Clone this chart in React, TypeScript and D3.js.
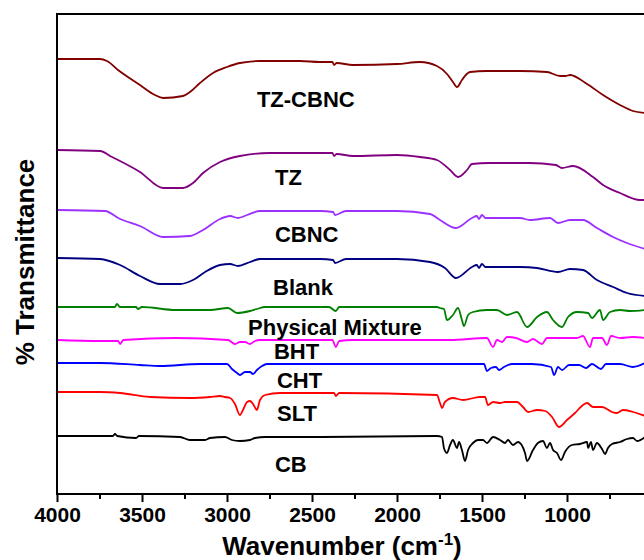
import React, { useEffect, useRef } from "react";
import * as d3 from "d3";

// spectra: [wavenumber (cm-1), stacked transmittance (a.u.)]
const tzCbnc: [number, number][] = [
  [4000, 435], [3747, 435], [3706, 433], [3641, 424], [3512, 409], [3424, 399], [3376, 396],
  [3259, 398], [3218, 402], [3159, 411], [3082, 421], [3000, 427], [2924, 431], [2806, 433],
  [2571, 433], [2453, 432], [2380, 432], [2370, 429], [2355, 431], [2259, 429], [2000, 430],
  [1865, 432], [1765, 428], [1706, 420], [1671, 412], [1647, 407], [1618, 414], [1590, 420],
  [1571, 422], [1471, 423], [1276, 423], [1118, 422], [1041, 418], [1010, 418], [982, 419],
  [882, 410], [788, 399], [688, 389], [612, 383], [540, 381],
];
const tz: [number, number][] = [
  [4000, 344], [3747, 343], [3676, 337], [3512, 322], [3376, 306], [3259, 306], [3200, 311],
  [3141, 321], [3041, 332], [2924, 338], [2747, 341], [2453, 341], [2380, 341], [2370, 338],
  [2355, 340], [2259, 338], [2000, 339], [1865, 337], [1765, 334], [1688, 324], [1641, 317],
  [1588, 324], [1559, 330], [1459, 331], [1224, 331], [1065, 329], [1030, 326], [965, 328],
  [847, 317], [788, 309], [688, 301], [570, 294], [540, 294],
];
const cbnc: [number, number][] = [
  [4000, 284], [3718, 283], [3629, 275], [3512, 268], [3376, 257], [3218, 258], [3141, 264],
  [3041, 275], [2982, 278], [2935, 276], [2882, 279], [2806, 283], [2453, 283], [2376, 282],
  [2365, 279], [2300, 283], [2000, 283], [1806, 280], [1747, 274], [1653, 266], [1559, 276],
  [1530, 278], [1518, 275], [1500, 279], [1480, 276], [1276, 276], [1218, 274], [1100, 276],
  [1053, 271], [982, 274], [906, 274], [824, 266], [729, 257], [647, 251], [540, 245],
];
const blank: [number, number][] = [
  [4000, 236], [3747, 235], [3629, 229], [3512, 218], [3394, 210], [3276, 210], [3200, 214],
  [3129, 222], [3041, 229], [2982, 230], [2935, 228], [2865, 232], [2806, 235], [2453, 235],
  [2376, 234], [2365, 231], [2300, 235], [2000, 235], [1806, 232], [1718, 226], [1653, 216],
  [1559, 227], [1530, 229], [1518, 226], [1500, 230], [1480, 227], [1276, 227], [1176, 226],
  [1053, 222], [982, 225], [906, 224], [824, 214], [729, 207], [647, 201], [540, 198],
];
const physMix: [number, number][] = [
  [4000, 187], [3660, 187], [3647, 190], [3630, 187], [3535, 187], [3524, 185], [3500, 187],
  [3300, 184], [3100, 184], [2994, 186], [2941, 181], [2865, 183], [2824, 185], [2776, 187],
  [2400, 187], [2360, 183], [2340, 187], [1765, 187], [1747, 186], [1724, 185], [1706, 174],
  [1671, 179], [1641, 186], [1618, 174], [1606, 168], [1582, 179], [1553, 182], [1471, 184],
  [1412, 184], [1353, 179], [1294, 182], [1235, 167], [1176, 177], [1118, 182], [1082, 174],
  [1029, 167], [994, 177], [941, 182], [876, 181], [853, 176], [806, 184], [788, 174],
  [747, 182], [688, 184], [629, 183], [540, 184],
];
const bht: [number, number][] = [
  [4000, 154], [3747, 153], [3640, 153], [3629, 150], [3610, 154], [3300, 156], [2994, 154],
  [2953, 150], [2924, 152], [2894, 152], [2865, 150], [2835, 153], [2806, 154], [2380, 154],
  [2360, 147], [2340, 153], [2259, 154], [1688, 154], [1471, 156], [1435, 147], [1412, 154],
  [1382, 152], [1353, 157], [1300, 156], [1235, 152], [1200, 155], [1147, 150], [1118, 156],
  [1041, 156], [941, 156], [906, 158], [865, 147], [847, 156], [794, 156], [765, 149],
  [741, 158], [688, 156], [612, 157], [540, 156],
];
const cht: [number, number][] = [
  [4000, 131], [3747, 131], [3512, 129], [3394, 128], [3159, 130], [3000, 130], [2971, 125],
  [2941, 121], [2924, 119], [2894, 122], [2865, 122], [2847, 120], [2824, 124], [2794, 128],
  [2765, 130], [1488, 130], [1471, 123], [1447, 126], [1418, 127], [1400, 124], [1371, 127],
  [1324, 130], [1206, 130], [1094, 127], [1076, 119], [1053, 127], [1029, 124], [988, 129],
  [929, 129], [888, 126], [853, 130], [800, 125], [771, 130], [688, 130], [612, 127], [540, 131],
];
const slt: [number, number][] = [
  [4000, 102], [3747, 102], [3629, 101], [3453, 97], [3218, 96], [3100, 97], [3041, 98],
  [3012, 97], [2982, 96], [2953, 90], [2924, 79], [2906, 84], [2882, 92], [2865, 93],
  [2847, 90], [2824, 84], [2806, 94], [2776, 99], [2688, 101], [2453, 101], [2370, 101],
  [2360, 98], [2340, 101], [1765, 99], [1747, 91], [1735, 86], [1718, 92], [1671, 96],
  [1612, 94], [1512, 97], [1482, 97], [1465, 89], [1435, 92], [1394, 91], [1365, 92],
  [1294, 92], [1259, 87], [1229, 82], [1176, 84], [1129, 83], [1088, 77], [1047, 67],
  [1000, 74], [953, 81], [906, 89], [882, 91], [847, 87], [794, 87], [735, 82], [706, 81],
  [671, 84], [612, 82], [540, 78],
];
const cb: [number, number][] = [
  [4000, 58], [3671, 58], [3659, 60], [3645, 58], [3535, 56], [3518, 58], [3276, 57],
  [3218, 54], [3129, 54], [3100, 56], [3012, 57], [2971, 54], [2924, 53], [2865, 54],
  [2835, 56], [2776, 57], [2453, 57], [1765, 58], [1735, 57], [1724, 46], [1706, 41],
  [1688, 49], [1671, 54], [1647, 46], [1635, 52], [1618, 44], [1600, 33], [1582, 44],
  [1553, 51], [1524, 54], [1494, 54], [1471, 51], [1435, 57], [1394, 54], [1365, 51],
  [1347, 54], [1318, 49], [1288, 52], [1247, 41], [1235, 33], [1200, 44], [1171, 51],
  [1141, 53], [1118, 46], [1100, 51], [1082, 44], [1059, 41], [1035, 34], [1012, 42],
  [971, 49], [924, 50], [882, 52], [876, 46], [859, 52], [847, 44], [824, 51], [794, 45],
  [776, 40], [759, 46], [735, 50], [688, 52], [647, 55], [612, 56], [588, 53], [540, 57],
];

const seriesData = [tzCbnc, tz, cbnc, blank, physMix, bht, cht, slt, cb];
const seriesNames = ["TZ-CBNC", "TZ", "CBNC", "Blank", "Physical Mixture", "BHT", "CHT", "SLT", "CB"];
const seriesColors = ["#800000", "#800080", "#9b30ff", "#000080", "#008000", "#ff00ff", "#0000ff", "#ff0000", "#000000"];
// label anchor (left edge wavenumber, baseline value)
const labelPos: [number, number][] = [
  [2824, 387], [2718, 309], [2718, 252], [2729, 199], [2876, 159], [2724, 135], [2706, 106], [2706, 73], [2718, 22],
];
const majorTicks = [4000, 3500, 3000, 2500, 2000, 1500, 1000];
const minorTicks = [3750, 3250, 2750, 2250, 1750, 1250, 750];

const width = 644;
const height = 560;
const margin = { top: 14, left: 57, bottom: 66, right: -25 };

export default function App() {
  const ref = useRef<SVGSVGElement>(null);

  useEffect(() => {
    const svg = d3.select(ref.current);
    svg.selectAll("*").remove();
    const iwidth = width - margin.left - margin.right;
    const iheight = height - margin.top - margin.bottom;

    const x = d3.scaleLinear().domain([4000, 400]).range([0, iwidth]);
    const y = d3.scaleLinear().domain([0, 480]).range([iheight, 0]);

    const g = svg.append("g").attr("transform", `translate(${margin.left},${margin.top})`);

    const line = d3.line<[number, number]>()
      .x(d => x(d[0]))
      .y(d => y(d[1]))
      .curve(d3.curveMonotoneX);

    seriesData.forEach((s, i) => {
      g.append("path")
        .attr("d", line(s))
        .attr("fill", "none")
        .attr("stroke", seriesColors[i])
        .attr("stroke-width", 1.8)
        .attr("stroke-linejoin", "round");
    });

    seriesNames.forEach((name, i) => {
      g.append("text")
        .attr("x", x(labelPos[i][0]))
        .attr("y", y(labelPos[i][1]))
        .style("font-family", "Liberation Sans, Arial, sans-serif")
        .style("font-weight", "bold")
        .style("font-size", "22px")
        .text(name);
    });

    // frame
    g.append("rect")
      .attr("width", iwidth)
      .attr("height", iheight)
      .attr("fill", "none")
      .attr("stroke", "#000")
      .attr("stroke-width", 2);

    const xAxis = g.append("g")
      .attr("transform", `translate(0,${iheight})`)
      .call(d3.axisBottom(x).tickValues(majorTicks).tickSize(8).tickSizeOuter(0).tickPadding(5).tickFormat(d3.format("d")));
    xAxis.select(".domain").remove();
    xAxis.selectAll("line").attr("stroke-width", 2);
    xAxis.selectAll("text")
      .style("font-family", "Liberation Sans, Arial, sans-serif")
      .style("font-weight", "bold")
      .style("font-size", "21px")
      .attr("fill", "#000");

    const xMinor = g.append("g")
      .attr("transform", `translate(0,${iheight})`)
      .call(d3.axisBottom(x).tickValues(minorTicks).tickSize(5).tickFormat(() => ""));
    xMinor.select(".domain").remove();
    xMinor.selectAll("line").attr("stroke-width", 2);

    const title = svg.append("text")
      .attr("x", 342)
      .attr("y", 555)
      .attr("text-anchor", "middle")
      .style("font-family", "Liberation Sans, Arial, sans-serif")
      .style("font-weight", "bold")
      .style("font-size", "26px");
    title.append("tspan").text("Wavenumber (cm");
    title.append("tspan").attr("dy", -10).style("font-size", "17px").text("-1");
    title.append("tspan").attr("dy", 10).text(")");

    svg.append("text")
      .attr("transform", `translate(34,262) rotate(-90)`)
      .attr("text-anchor", "middle")
      .style("font-family", "Liberation Sans, Arial, sans-serif")
      .style("font-weight", "bold")
      .style("font-size", "26px")
      .text("% Transmittance");
  }, []);

  return (
    <svg
      ref={ref}
      width={width}
      height={height}
      style={{ position: "absolute", left: 0, top: 0, background: "#fff" }}
    />
  );
}
